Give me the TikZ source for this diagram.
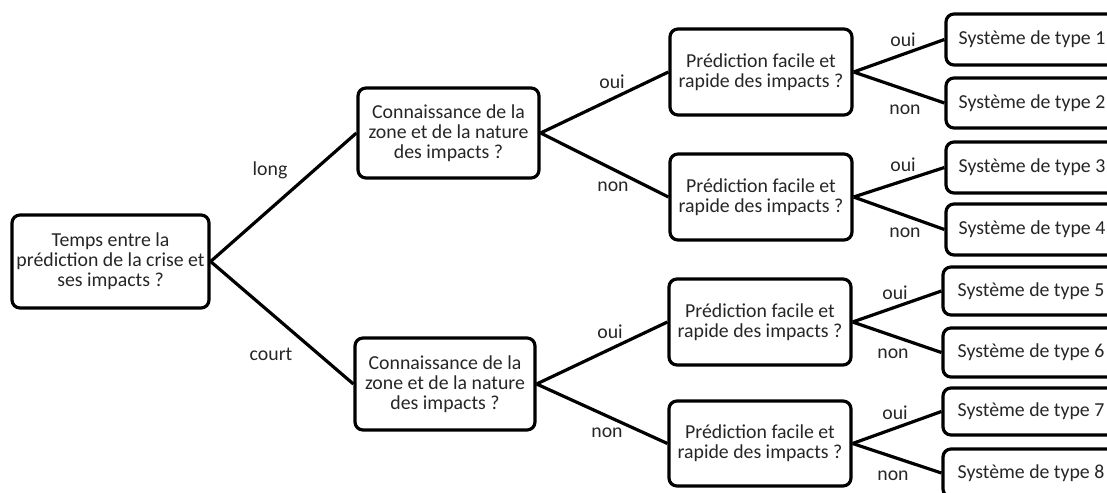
\documentclass[tikz,border=0pt]{standalone}
\usepackage{fontspec}
\setmainfont{Carlito}
\begin{document}
\begin{tikzpicture}[x=1pt,y=-1pt,
  box/.style={draw=black,line width=3.2pt,rounded corners=8pt,fill=white,align=center,
    inner sep=0pt,font=\fontsize{19.8}{20.2}\selectfont,text=black!85},
  lbl/.style={inner sep=0pt,font=\fontsize{19.8}{20.2}\selectfont,text=black!85},
  conn/.style={line width=3.2pt}]
\useasboundingbox (0,0) rectangle (1107,492);
\clip (0,0) rectangle (1107,492);
\node[box,minimum width=197pt,minimum height=93pt] (root) at (110.5,261.5) {Temps entre la\\prédiction de la crise et\\ses impacts ?};
\node[box,minimum width=181pt,minimum height=90pt] (c1) at (448.5,133) {Connaissance de la\\zone et de la nature\\des impacts ?};
\node[box,minimum width=180pt,minimum height=92pt] (c2) at (445,384) {Connaissance de la\\zone et de la nature\\des impacts ?};
\node[box,minimum width=182pt,minimum height=86pt] (p1) at (761,72) {Prédiction facile et\\rapide des impacts ?};
\node[box,minimum width=182pt,minimum height=86pt] (p2) at (761,197) {Prédiction facile et\\rapide des impacts ?};
\node[box,minimum width=182pt,minimum height=86pt] (p3) at (760,322) {Prédiction facile et\\rapide des impacts ?};
\node[box,minimum width=182pt,minimum height=85pt] (p4) at (760,443.5) {Prédiction facile et\\rapide des impacts ?};
\node[box,minimum width=172pt,minimum height=51pt] (l1) at (1032,39.5) {Système de type 1};
\node[box,minimum width=172pt,minimum height=50pt] (l2) at (1032,103) {Système de type 2};
\node[box,minimum width=172pt,minimum height=51pt] (l3) at (1032,167.5) {Système de type 3};
\node[box,minimum width=172pt,minimum height=51pt] (l4) at (1032,229.5) {Système de type 4};
\node[box,minimum width=176pt,minimum height=48pt] (l5) at (1031,291) {Système de type 5};
\node[box,minimum width=176pt,minimum height=49pt] (l6) at (1031,352.5) {Système de type 6};
\node[box,minimum width=176pt,minimum height=47pt] (l7) at (1031,411.5) {Système de type 7};
\node[box,minimum width=176pt,minimum height=48pt] (l8) at (1031,473) {Système de type 8};
\draw[conn] (root.east) -- (c1.west);
\draw[conn] (root.east) -- (c2.west);
\draw[conn] (c1.east) -- (p1.west);
\draw[conn] (c1.east) -- (p2.west);
\draw[conn] (c2.east) -- (p3.west);
\draw[conn] (c2.east) -- (p4.west);
\draw[conn] (p1.east) -- (l1.west);
\draw[conn] (p1.east) -- (l2.west);
\draw[conn] (p2.east) -- (l3.west);
\draw[conn] (p2.east) -- (l4.west);
\draw[conn] (p3.east) -- (l5.west);
\draw[conn] (p3.east) -- (l6.west);
\draw[conn] (p4.east) -- (l7.west);
\draw[conn] (p4.east) -- (l8.west);
\node[lbl] (tlong) at (270,170) {long};
\node[lbl] (tcourt) at (271,354) {court};
\node[lbl] (t1) at (612,82) {oui};
\node[lbl] (t2) at (613,187) {non};
\node[lbl] (t3) at (610,332) {oui};
\node[lbl] (t4) at (607,433) {non};
\node[lbl] (u1) at (903,40) {oui};
\node[lbl] (u2) at (905,110) {non};
\node[lbl] (u3) at (903,165) {oui};
\node[lbl] (u4) at (905,233) {non};
\node[lbl] (u5) at (895,293) {oui};
\node[lbl] (u6) at (893,354) {non};
\node[lbl] (u7) at (895,413) {oui};
\node[lbl] (u8) at (893,476) {non};
\end{tikzpicture}
\end{document}
